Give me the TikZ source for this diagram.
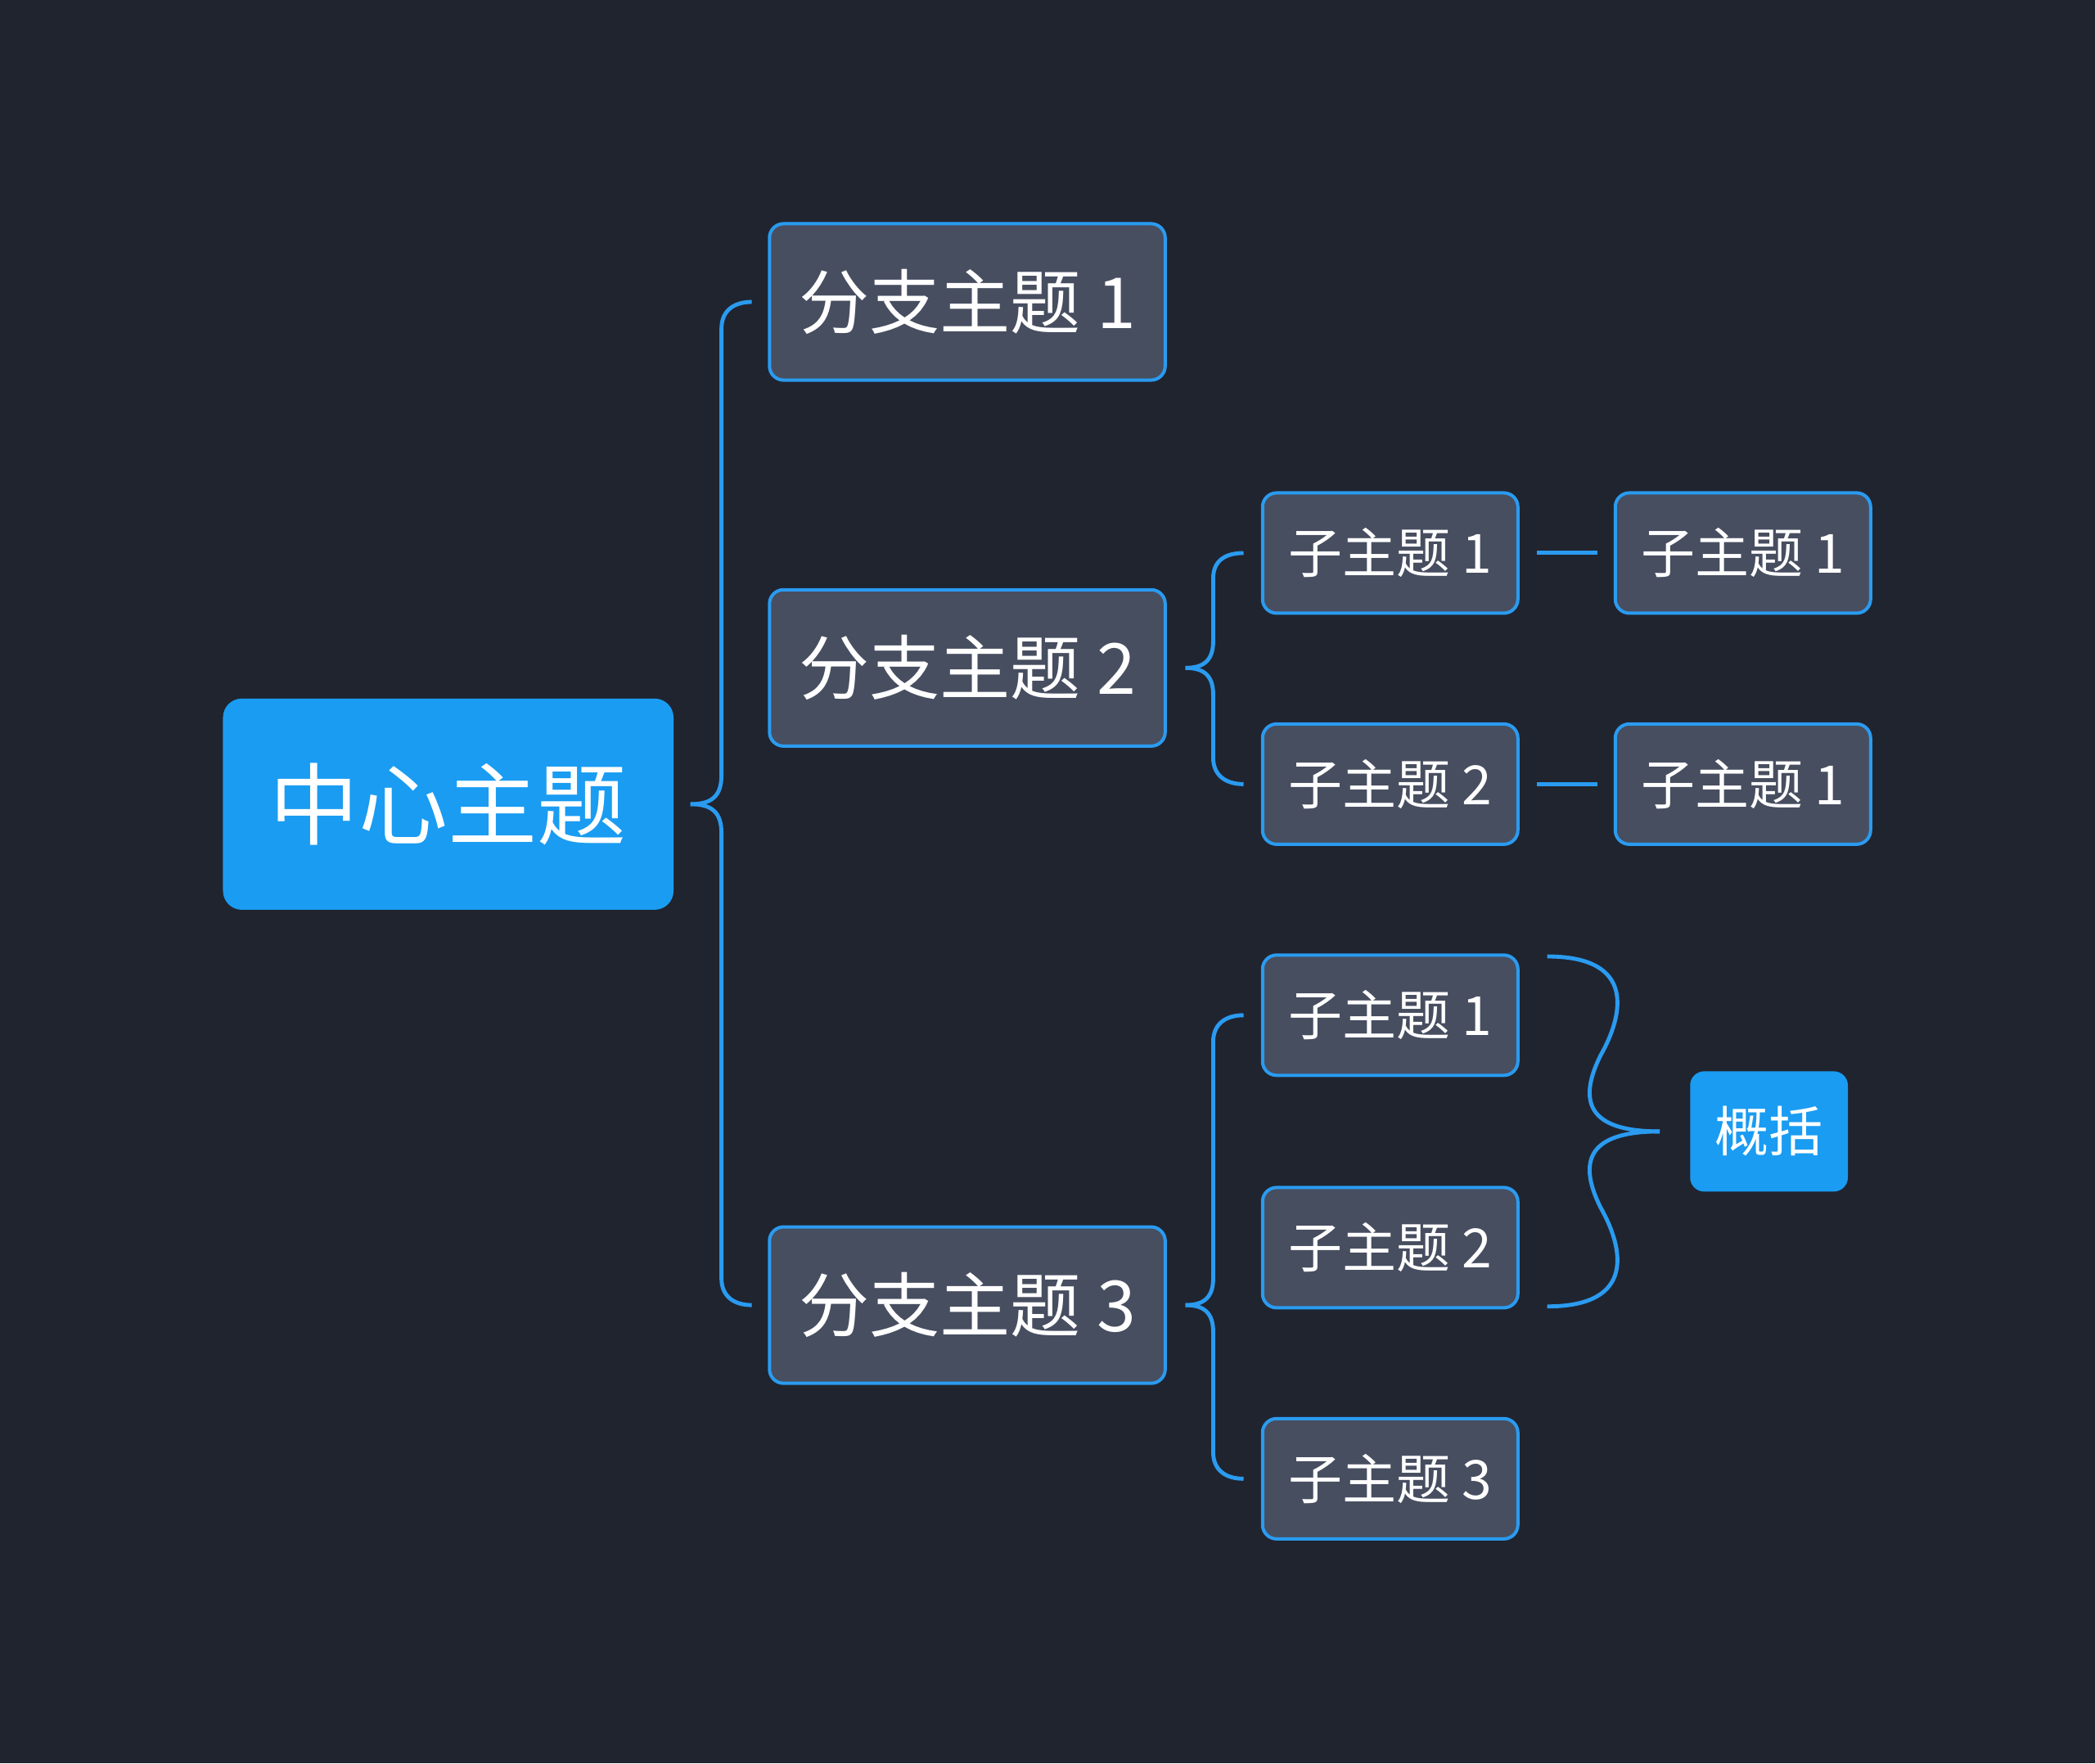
\documentclass[tikz,border=0pt]{standalone}
\usepackage{fontspec}
\newfontfamily\cjk{Noto Sans CJK SC}
\usetikzlibrary{calc}
\definecolor{bg}{HTML}{20242F}
\definecolor{topic}{HTML}{474E60}
\definecolor{accent}{HTML}{1A9CF2}
\definecolor{edge}{HTML}{2A9BF0}
\begin{document}
\begin{tikzpicture}[x=0.01cm,y=-0.01cm]
\tikzstyle{root} = [rectangle, text=white, fill=accent, rounded corners=4pt, font=\cjk\fontsize{19}{19}\selectfont, inner sep=0pt]
\tikzstyle{branch} = [rectangle, minimum width=2.96cm, minimum height=1.17cm, draw=edge, line width=0.7pt, fill=topic, text=white, rounded corners=3pt, font=\cjk\fontsize{15}{15}\selectfont, inner sep=0pt]
\tikzstyle{leaf} = [rectangle, minimum width=1.91cm, minimum height=0.9cm, draw=edge, line width=0.7pt, fill=topic, text=white, rounded corners=3pt, font=\cjk\fontsize{11.5}{11.5}\selectfont, inner sep=0pt]
\tikzstyle{summ} = [rectangle, minimum width=1.18cm, minimum height=0.9cm, fill=accent, text=white, rounded corners=3pt, font=\cjk\fontsize{11.5}{11.5}\selectfont, inner sep=0pt]
\tikzstyle{link} = [draw=edge, line width=0.85pt]

\fill[bg] (0,0) rectangle (1568,1320);

% Nodes
\node (center) [root, minimum width=3.37cm, minimum height=1.58cm] at (335.5,602) {中心主题};
\node (b1) [branch] at (724,226) {分支主题 1};
\node (b2) [branch] at (724,500) {分支主题 2};
\node (b3) [branch] at (724,977) {分支主题 3};
\node (s21) [leaf] at (1040.5,414) {子主题 1};
\node (s22) [leaf] at (1040.5,587) {子主题 2};
\node (t21) [leaf] at (1304.5,414) {子主题 1};
\node (t22) [leaf] at (1304.5,587) {子主题 1};
\node (s31) [leaf] at (1040.5,760) {子主题 1};
\node (s32) [leaf] at (1040.5,934) {子主题 2};
\node (s33) [leaf] at (1040.5,1107) {子主题 3};
\node (sum) [summ] at (1324,847) {概括};

% Center to branches
\draw[link] ($(center.east)+(12,0)$) .. controls ++(16,0) and (540,596) .. (540,580) -- (540,246) .. controls (540,232) and (550,226) .. ($(b1.west)+(-12,0)$);
\draw[link] ($(center.east)+(12,0)$) .. controls ++(16,0) and (540,608) .. (540,624) -- (540,957) .. controls (540,971) and (550,977) .. ($(b3.west)+(-12,0)$);

% Branch 2 children
\draw[link] ($(b2.east)+(14,0)$) .. controls ++(14,0) and (908,494) .. (908,480) -- (908,433) .. controls (908,419) and (918,414) .. ($(s21.west)+(-13,0)$);
\draw[link] ($(b2.east)+(14,0)$) .. controls ++(14,0) and (908,506) .. (908,520) -- (908,567) .. controls (908,581) and (918,587) .. ($(s22.west)+(-13,0)$);
\draw[link] ($(s21.east)+(13,0)$) -- ($(t21.west)+(-12,0)$);
\draw[link] ($(s22.east)+(13,0)$) -- ($(t22.west)+(-12,0)$);

% Branch 3 children
\draw[link] ($(b3.east)+(14,0)$) .. controls ++(14,0) and (908,971) .. (908,957) -- (908,780) .. controls (908,766) and (918,760) .. ($(s31.west)+(-13,0)$);
\draw[link] ($(b3.east)+(14,0)$) .. controls ++(14,0) and (908,983) .. (908,997) -- (908,1087) .. controls (908,1101) and (918,1107) .. ($(s33.west)+(-13,0)$);

% Summary brace
\draw[link] (1158,716) .. controls (1225,716) and (1215,760) .. (1198,790) .. controls (1178,830) and (1195,847) .. ($(sum.west)+(-22,0)$);
\draw[link] (1158,978) .. controls (1225,978) and (1215,934) .. (1198,904) .. controls (1178,864) and (1195,847) .. ($(sum.west)+(-22,0)$);
\end{tikzpicture}
\end{document}
